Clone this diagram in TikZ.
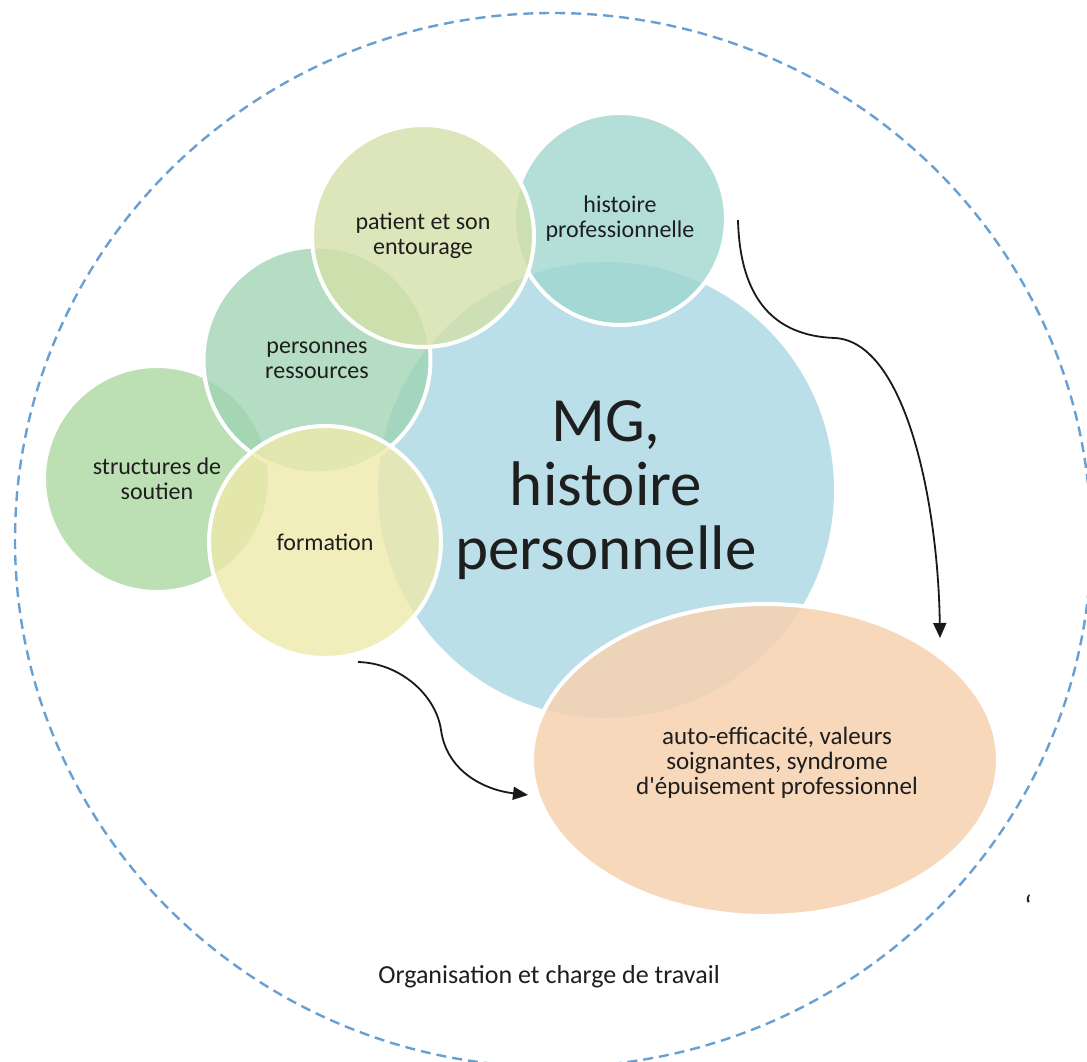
\documentclass[tikz,border=0pt]{standalone}
\usepackage{fontspec}
\setmainfont{Carlito}[Ligatures=TeXOff]
\usetikzlibrary{arrows.meta,shapes.geometric}
\definecolor{cBlue}{RGB}{186,223,232}
\definecolor{cHist}{RGB}{159,215,207}
\definecolor{cPat}{RGB}{211,224,167}
\definecolor{cPers}{RGB}{159,212,180}
\definecolor{cStruct}{RGB}{171,214,160}
\definecolor{cForm}{RGB}{239,234,170}
\definecolor{cEll}{RGB}{247,210,176}
\definecolor{cDash}{RGB}{104,160,212}
\definecolor{cText}{RGB}{30,30,30}
\tikzset{
  bubble/.style={circle, inner sep=0pt, draw=white, line width=4pt, fill opacity=0.78, text opacity=1, align=center, text=cText, font=\fontsize{24}{25}\selectfont},
  conn/.style={line width=1.8pt, draw=black!90, -{Triangle[length=15pt,width=13pt]}},
}
\begin{document}
\begin{tikzpicture}[x=1pt,y=-1pt]
\useasboundingbox (0,0) rectangle (1087,1061);
\clip (0,0) rectangle (1087,1061);
\fill[white] (0,0) rectangle (1087,1061);
% outer dashed circle
\draw[cDash, line width=2.4pt, dash pattern=on 10pt off 6pt] (553,540) ellipse [x radius=538, y radius=527];
% big circle
\node[circle, inner sep=0pt, minimum size=456pt, fill=cBlue, align=center, text=cText, font=\fontsize{63}{64}\selectfont] (mg) at (606,490) {MG,\\histoire\\personnelle};
\node[bubble, fill=cHist, minimum size=212pt] (hist) at (620,219) {histoire\\professionnelle};
\node[bubble, fill=cStruct, minimum size=226pt] (struct) at (157,479) {structures de\\soutien};
\node[bubble, fill=cPers, minimum size=227pt] (pers) at (317,360) {personnes\\ressources};
\node[bubble, fill=cPat, minimum size=222pt] (pat) at (423,236) {patient et son\\entourage};
\node[bubble, fill=cForm, minimum size=232pt] (form) at (325,542) {formation};
\node[ellipse, inner sep=0pt, draw=white, line width=4pt, fill=cEll, fill opacity=0.85, minimum width=466pt, minimum height=312pt] (ell) at (765,760) {};
\node[align=center, text=cText, font=\fontsize{25}{25}\selectfont] (elltext) at (777,763) {auto-efficacité, valeurs\\soignantes, syndrome\\d'épuisement professionnel};
% arrows
\coordinate (a1s) at (738,220);
\coordinate (a1e) at (940,638);
\coordinate (a2s) at (358,662);
\coordinate (a2e) at (528,795);
\draw[conn] (a1s) .. controls (740,300) and (775,336) .. (835,338) .. controls (905,342) and (938,500) .. (a1e);
\draw[conn] (a2s) .. controls (400,663) and (436,695) .. (441,730) .. controls (447,772) and (485,790) .. (a2e);
% labels
\node[text=cText, font=\fontsize{26}{28}\selectfont] (org) at (549,977) {Organisation et charge de travail};
\node[text=cText, font=\fontsize{30}{30}\selectfont] (mark) at (1028,906) {‘};
\end{tikzpicture}
\end{document}
